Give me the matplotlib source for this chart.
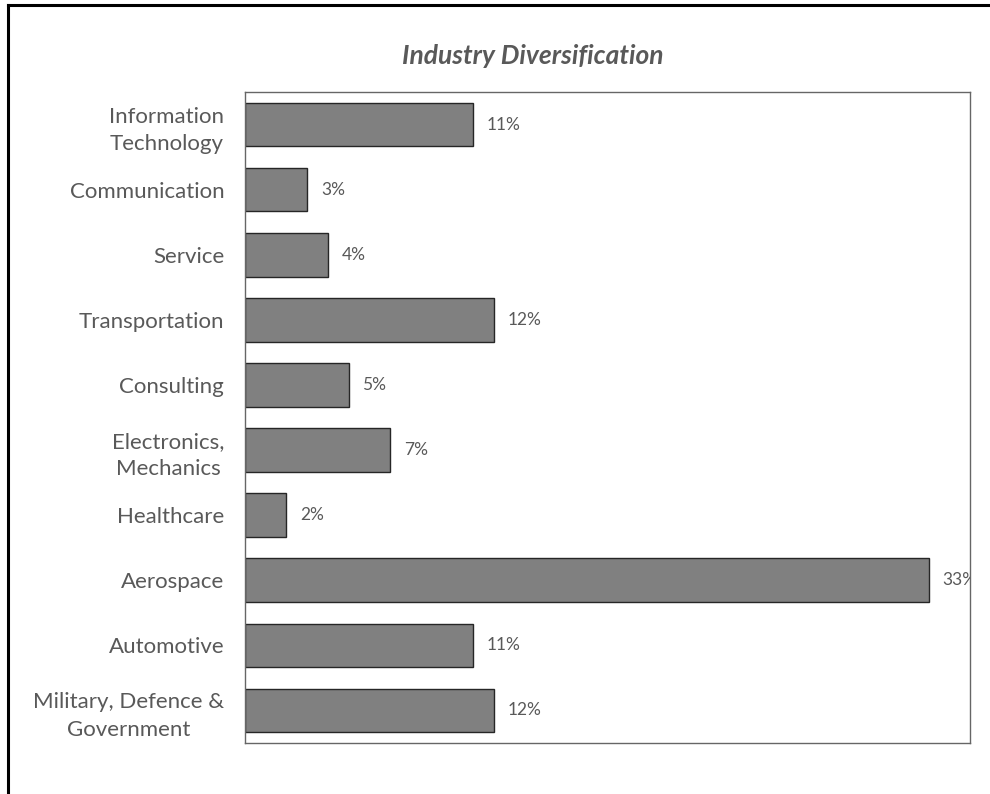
import matplotlib.pyplot as plt
from matplotlib.lines import Line2D

# ---- data ----
categories = ["Information\nTechnology", "Communication", "Service", "Transportation",
              "Consulting", "Electronics,\nMechanics", "Healthcare", "Aerospace",
              "Automotive", "Military, Defence &\nGovernment"]
shares = [11, 3, 4, 12, 5, 7, 2, 33, 11, 12]
value_labels = ["11%", "3%", "4%", "12%", "5%", "7%", "2%", "33%", "11%", "12%"]

txt = "#595959"
plt.rcParams['font.family'] = ['Lato', 'DejaVu Sans']

fig = plt.figure(figsize=(9.9, 7.94), dpi=100)
ax = fig.add_axes([0.2475, 0.0642, 0.7323, 0.8199])

ypos = list(range(len(categories)))
ax.barh(ypos, shares, height=0.67, color="#808080", edgecolor="#262626", linewidth=1)
ax.set_ylim(len(categories) - 0.5, -0.5)
ax.set_xlim(0, 35)

for y, v, lab in zip(ypos, shares, value_labels):
    ax.annotate(lab, (v, y), xytext=(10, 0), textcoords="offset points",
                va="center", ha="left", fontsize=12.5, color=txt, clip_on=True)

ax.set_yticks(ypos)
ax.set_yticklabels(categories, fontsize=16, color=txt, multialignment="center",
                   linespacing=1.45)
ax.tick_params(axis="y", length=0, pad=15)
ax.set_xticks([])
for s in ax.spines.values():
    s.set_color("#666666")
    s.set_linewidth(1)

fig.text(0.538, 0.930, "Industry Diversification", ha="center", va="center",
         fontsize=19, fontweight="bold", fontstyle="italic", color=txt)

# outer frame (partly outside the picture)
fig.add_artist(Line2D([0.0081, 1.0], [0.9937, 0.9937], color="black", linewidth=2.2,
                      transform=fig.transFigure))
fig.add_artist(Line2D([0.0081, 0.0081], [0.0, 0.9937], color="black", linewidth=2.2,
                      transform=fig.transFigure))

fig.savefig("out.png", dpi=100)
